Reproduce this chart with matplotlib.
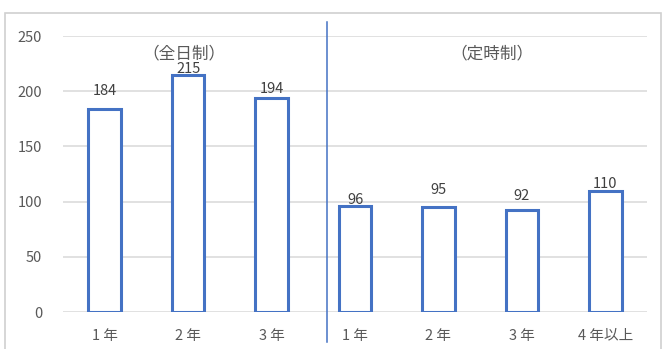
import matplotlib
matplotlib.use("Agg")
import matplotlib.pyplot as plt
from matplotlib.patches import Rectangle
import matplotlib.transforms as mtransforms

plt.rcParams["font.family"] = ["Noto Sans CJK JP", "DejaVu Sans"]

categories = ["1 年", "2 年", "3 年", "1 年", "2 年", "3 年", "4 年以上"]
counts = [184, 215, 194, 96, 95, 92, 110]
group_names = ["（全日制）", "（定時制）"]

BLUE = "#4472C4"
GRID = "#D9D9D9"
TEXT = "#595959"
LABEL = "#404040"

W, H = 666, 349
fig = plt.figure(figsize=(W / 100, H / 100), dpi=100)
ax = fig.add_axes([63 / W, 37 / H, 584 / W, 276 / H])

# outer chart frame (bottom edge runs off the image)
fig.patches.append(Rectangle((5 / W, -0.02), 656 / W, (H - 13) / H + 0.02,
                             transform=fig.transFigure, fill=False,
                             edgecolor="#D0D0D0", lw=1.2))

x = list(range(len(categories)))
ax.bar(x, counts, width=0.39, facecolor="white", edgecolor=BLUE, lw=2.2, zorder=3)

# value labels sit a little above each bar
nudge = [8, -1, 1.5, -0.5, 7, 5, 0]
for xi, v, dy in zip(x, counts, nudge):
    ax.annotate(str(v), xy=(xi, v), xytext=(0, dy), textcoords="offset points",
                ha="center", va="bottom", fontsize=10.5, color=LABEL)

# divider between the two school types
trans = mtransforms.blended_transform_factory(ax.transData, ax.transAxes)
ax.plot([2.66, 2.66], [1.051, -0.109], transform=trans, color=BLUE, lw=1.1,
        clip_on=False, zorder=4)

ax.text(0.95, 234, group_names[0], ha="center", va="center", fontsize=12, color=TEXT)
ax.text(4.64, 234, group_names[1], ha="center", va="center", fontsize=12, color=TEXT)

ax.set_xlim(-0.5, len(categories) - 0.5)
ax.set_ylim(0, 250)
ax.set_yticks([0, 50, 100, 150, 200, 250])
ax.set_xticks(x)
ax.set_xticklabels(categories)
ax.grid(axis="y", color=GRID, lw=1.1, zorder=0)
for side in ax.spines:
    ax.spines[side].set_visible(False)
ax.tick_params(axis="both", length=0, colors=TEXT, labelsize=10.5)
ax.tick_params(axis="y", pad=15)
ax.tick_params(axis="x", pad=12)

fig.savefig("out.png", dpi=100)
